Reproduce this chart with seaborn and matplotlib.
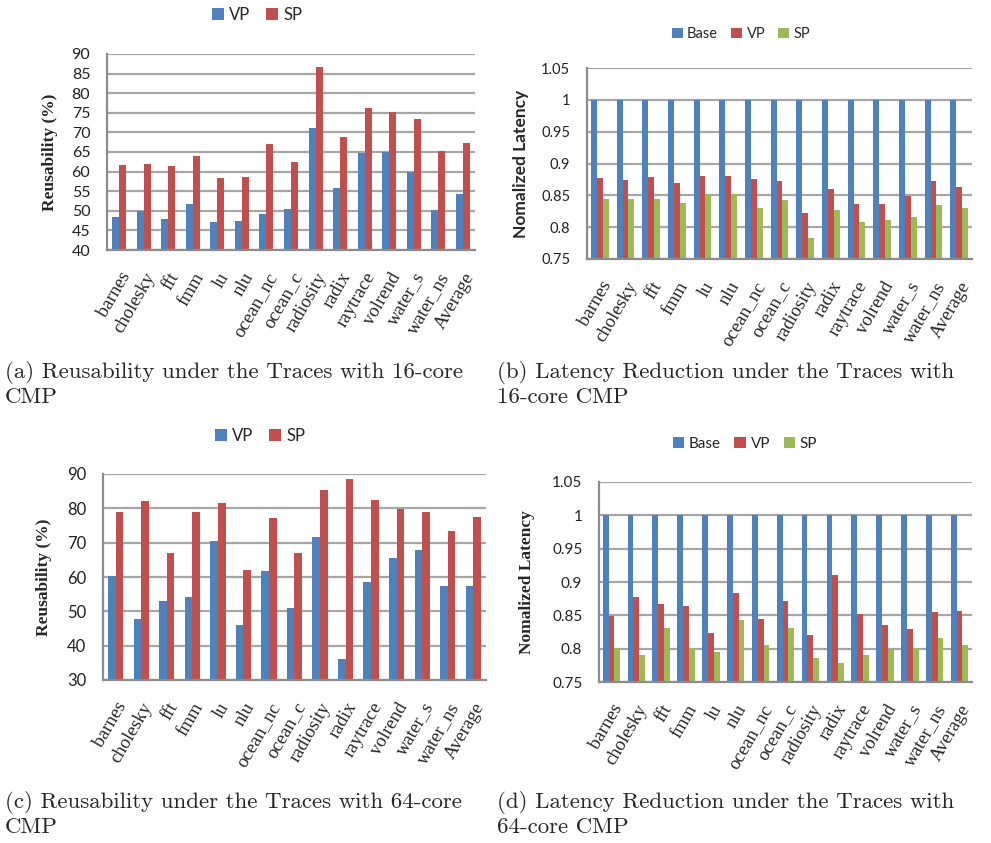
import numpy as np
import pandas as pd
import matplotlib
matplotlib.use("Agg")
import matplotlib.pyplot as plt
import seaborn as sns
from matplotlib.patches import Patch

# ---------------- data ----------------
benchmarks = ["barnes", "cholesky", "fft", "fmm", "lu", "nlu", "ocean_nc", "ocean_c",
              "radiosity", "radix", "raytrace", "volrend", "water_s", "water_ns", "Average"]

reuse16_vp = [48.4, 50.0, 47.9, 51.7, 47.1, 47.4, 49.2, 50.5, 71.1, 55.8, 64.8, 65.1, 60.0, 50.2, 54.3]
reuse16_sp = [61.7, 61.9, 61.4, 64.0, 58.4, 58.6, 67.0, 62.4, 86.7, 68.8, 76.2, 75.2, 73.4, 65.3, 67.3]

lat16_base = [1.0] * 15
lat16_vp = [0.877, 0.874, 0.879, 0.870, 0.881, 0.881, 0.876, 0.873, 0.822, 0.860, 0.837, 0.837, 0.849, 0.873, 0.863]
lat16_sp = [0.844, 0.844, 0.844, 0.838, 0.852, 0.852, 0.830, 0.843, 0.783, 0.827, 0.808, 0.811, 0.816, 0.835, 0.830]

reuse64_vp = [60.3, 47.7, 53.0, 54.1, 70.5, 46.0, 61.7, 50.9, 71.7, 36.0, 58.5, 65.5, 67.9, 57.4, 57.4]
reuse64_sp = [79.0, 82.2, 67.0, 79.0, 81.6, 62.0, 77.2, 67.0, 85.4, 88.6, 82.5, 79.9, 79.0, 73.4, 77.5]

lat64_base = [1.0] * 15
lat64_vp = [0.849, 0.877, 0.867, 0.864, 0.823, 0.883, 0.844, 0.871, 0.820, 0.910, 0.852, 0.835, 0.829, 0.855, 0.856]
lat64_sp = [0.801, 0.790, 0.831, 0.801, 0.795, 0.843, 0.805, 0.831, 0.786, 0.778, 0.790, 0.799, 0.801, 0.816, 0.805]

reuse16_ticks = [40, 45, 50, 55, 60, 65, 70, 75, 80, 85, 90]
reuse64_ticks = [30, 40, 50, 60, 70, 80, 90]
lat_ticks = [0.75, 0.8, 0.85, 0.9, 0.95, 1.0, 1.05]
lat_tick_labels = ["0.75", "0.8", "0.85", "0.9", "0.95", "1", "1.05"]

captions = [
    ("(a) Reusability under the Traces with 16-core", "CMP"),
    ("(b) Latency Reduction under the Traces with", "16-core CMP"),
    ("(c) Reusability under the Traces with 64-core", "CMP"),
    ("(d) Latency Reduction under the Traces with", "64-core CMP"),
]

# ---------------- style ----------------
sns.set_theme(style="white")
plt.rcParams['font.family'] = ['DejaVu Sans']

BLUE, RED, GREEN = "#4F81BD", "#C0504D", "#9BBB59"
GRID = "#a6a6a6"
SPINE = "#8c8c8c"

W, H = 991, 843
fig = plt.figure(figsize=(W / 100, H / 100), dpi=100)


def rect(x0, y0, x1, y1):
    return [x0 / W, 1 - y1 / H, (x1 - x0) / W, (y1 - y0) / H]


def panel(r, series, palette, ylim, ticks, ticklabels, ylabel, ylabel_font, tick_size,
          width, legend_xy, legend_size, ypad):
    ax = fig.add_axes(r)
    rows = []
    for name, vals in series:
        for b, v in zip(benchmarks, vals):
            rows.append({"bench": b, "value": v, "series": name})
    df = pd.DataFrame(rows)
    sns.barplot(data=df, x="bench", y="value", hue="series", palette=palette,
                width=width, saturation=1, ax=ax, legend=False, linewidth=0,
                errorbar=None)
    ax.set_ylim(*ylim)
    ax.set_xlim(-0.5, len(benchmarks) - 0.5)
    ax.set_yticks(ticks, ticklabels)
    ax.yaxis.grid(True, color=GRID, lw=1.6)
    ax.xaxis.grid(False)
    ax.set_axisbelow(True)
    for s in ["top", "right"]:
        ax.spines[s].set_visible(False)
    for s in ["left", "bottom"]:
        ax.spines[s].set_color(SPINE)
        ax.spines[s].set_linewidth(1.6)
    ax.tick_params(axis="both", length=0)
    ax.tick_params(axis="y", pad=12)
    for t in ax.get_yticklabels():
        t.set_fontfamily("Lato")
        t.set_fontsize(tick_size)
        t.set_color("#222222")
    ax.set_xticks(range(len(benchmarks)))
    ax.set_xticklabels(benchmarks, rotation=60, ha="right", rotation_mode="anchor",
                       fontfamily="Liberation Serif", fontsize=13.5)
    ax.tick_params(axis="x", pad=14)
    ax.set_xlabel("")
    ax.set_ylabel(ylabel, fontweight="bold", labelpad=ypad, **ylabel_font)
    handles = [Patch(facecolor=palette[n], edgecolor="none") for n, _ in series]
    fig.legend(handles, [n for n, _ in series], loc="center",
               bbox_to_anchor=(legend_xy[0] / W, 1 - legend_xy[1] / H),
               ncol=len(series), frameon=False, handlelength=0.75, handleheight=0.75,
               handletextpad=0.3, columnspacing=0.9,
               prop={"family": "Lato", "size": legend_size})
    return ax


reuse_pal = {"VP": BLUE, "SP": RED}
lat_pal = {"Base": BLUE, "VP": RED, "SP": GREEN}

panel(rect(107, 54, 475, 250), [("VP", reuse16_vp), ("SP", reuse16_sp)], reuse_pal,
      (40, 90), reuse16_ticks, [str(t) for t in reuse16_ticks], "Reusability (%)",
      {"fontfamily": "Liberation Serif", "fontsize": 12.5}, 11.5, 0.57, (257, 15), 12, 10)

panel(rect(587, 68, 972, 259), [("Base", lat16_base), ("VP", lat16_vp), ("SP", lat16_sp)],
      lat_pal, (0.75, 1.05), lat_ticks, lat_tick_labels, "Nomalized Latency",
      {"fontfamily": "Lato", "fontsize": 12.5}, 10.5, 0.7, (741, 34), 10.5, 9)

panel(rect(103, 474, 486, 680), [("VP", reuse64_vp), ("SP", reuse64_sp)], reuse_pal,
      (30, 90), reuse64_ticks, [str(t) for t in reuse64_ticks], "Reusability (%)",
      {"fontfamily": "Liberation Serif", "fontsize": 12.5}, 12, 0.6, (260, 436), 12, 11)

panel(rect(599, 482, 972, 682), [("Base", lat64_base), ("VP", lat64_vp), ("SP", lat64_sp)],
      lat_pal, (0.75, 1.05), lat_ticks, lat_tick_labels, "Nomalized Latency",
      {"fontfamily": "Liberation Serif", "fontsize": 12.5}, 11, 0.7, (745, 444), 11, 12)

# captions
cap_pos = [(5, 372), (497, 372), (5, 802), (497, 802)]
for (l1, l2), (x, y) in zip(captions, cap_pos):
    fig.text(x / W, 1 - y / H, l1, fontfamily="cmr10", fontsize=16.5, va="center", ha="left")
    fig.text(x / W, 1 - (y + 25) / H, l2, fontfamily="cmr10", fontsize=16.5, va="center", ha="left")

fig.savefig("out.png", dpi=100)
